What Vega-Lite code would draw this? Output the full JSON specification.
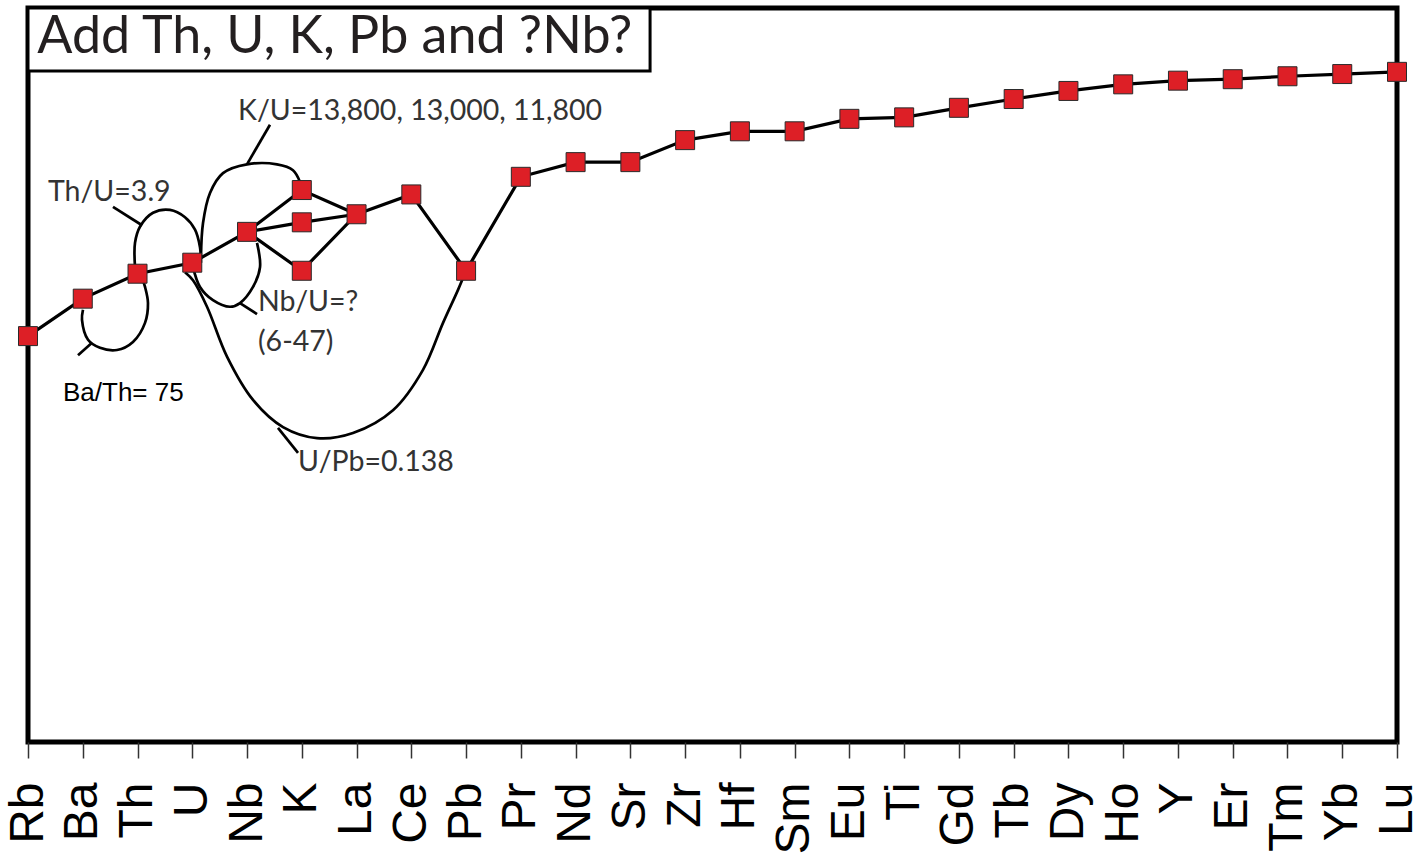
{
  "$schema": "https://vega.github.io/schema/vega-lite/v6.json",
  "width": 1369,
  "height": 734,
  "autosize": {"type": "none"},
  "padding": {"left": 28, "top": 8, "right": 25, "bottom": 121},
  "background": "white",
  "config": {
    "view": {"stroke": "black", "strokeWidth": 5},
    "axis": {"grid": false, "domain": false}
  },
  "datasets": {
    "pattern": [
      {"series": "13,800", "i": 0, "el": "Rb", "v": 55.3},
      {"series": "13,800", "i": 1, "el": "Ba", "v": 60.4},
      {"series": "13,800", "i": 2, "el": "Th", "v": 63.8},
      {"series": "13,800", "i": 3, "el": "U", "v": 65.3},
      {"series": "13,800", "i": 4, "el": "Nb", "v": 69.5},
      {"series": "13,800", "i": 5, "el": "K", "v": 75.2},
      {"series": "13,800", "i": 6, "el": "La", "v": 71.9},
      {"series": "13,800", "i": 7, "el": "Ce", "v": 74.6},
      {"series": "13,800", "i": 8, "el": "Pb", "v": 64.2},
      {"series": "13,800", "i": 9, "el": "Pr", "v": 77.0},
      {"series": "13,800", "i": 10, "el": "Nd", "v": 79.0},
      {"series": "13,800", "i": 11, "el": "Sr", "v": 79.0},
      {"series": "13,800", "i": 12, "el": "Zr", "v": 82.0},
      {"series": "13,800", "i": 13, "el": "Hf", "v": 83.2},
      {"series": "13,800", "i": 14, "el": "Sm", "v": 83.2},
      {"series": "13,800", "i": 15, "el": "Eu", "v": 84.9},
      {"series": "13,800", "i": 16, "el": "Ti", "v": 85.1},
      {"series": "13,800", "i": 17, "el": "Gd", "v": 86.4},
      {"series": "13,800", "i": 18, "el": "Tb", "v": 87.6},
      {"series": "13,800", "i": 19, "el": "Dy", "v": 88.7},
      {"series": "13,800", "i": 20, "el": "Ho", "v": 89.6},
      {"series": "13,800", "i": 21, "el": "Y", "v": 90.1},
      {"series": "13,800", "i": 22, "el": "Er", "v": 90.3},
      {"series": "13,800", "i": 23, "el": "Tm", "v": 90.7},
      {"series": "13,800", "i": 24, "el": "Yb", "v": 91.0},
      {"series": "13,800", "i": 25, "el": "Lu", "v": 91.3},
      {"series": "13,000", "i": 4, "el": "Nb", "v": 69.5},
      {"series": "13,000", "i": 5, "el": "K", "v": 70.8},
      {"series": "13,000", "i": 6, "el": "La", "v": 71.9},
      {"series": "11,800", "i": 4, "el": "Nb", "v": 69.5},
      {"series": "11,800", "i": 5, "el": "K", "v": 64.2},
      {"series": "11,800", "i": 6, "el": "La", "v": 71.9}
    ],
    "loops": [
      {"loop": "BaTh", "k": 0, "lx": 1.004, "v": 58.9},
      {"loop": "BaTh", "k": 1, "lx": 0.986, "v": 57.5},
      {"loop": "BaTh", "k": 2, "lx": 1.096, "v": 54.8},
      {"loop": "BaTh", "k": 3, "lx": 1.315, "v": 53.7},
      {"loop": "BaTh", "k": 4, "lx": 1.625, "v": 53.4},
      {"loop": "BaTh", "k": 5, "lx": 1.917, "v": 54.5},
      {"loop": "BaTh", "k": 6, "lx": 2.137, "v": 57.1},
      {"loop": "BaTh", "k": 7, "lx": 2.191, "v": 59.8},
      {"loop": "BaTh", "k": 8, "lx": 2.137, "v": 62.0},
      {"loop": "BaTh", "k": 9, "lx": 2.082, "v": 63.2},
      {"loop": "BaThLead", "k": 0, "lx": 0.913, "v": 52.7},
      {"loop": "BaThLead", "k": 1, "lx": 1.169, "v": 54.4},
      {"loop": "ThU", "k": 0, "lx": 1.954, "v": 64.7},
      {"loop": "ThU", "k": 1, "lx": 1.954, "v": 68.0},
      {"loop": "ThU", "k": 2, "lx": 2.045, "v": 70.2},
      {"loop": "ThU", "k": 3, "lx": 2.283, "v": 72.1},
      {"loop": "ThU", "k": 4, "lx": 2.593, "v": 72.5},
      {"loop": "ThU", "k": 5, "lx": 2.867, "v": 71.5},
      {"loop": "ThU", "k": 6, "lx": 3.05, "v": 69.8},
      {"loop": "ThU", "k": 7, "lx": 3.141, "v": 67.4},
      {"loop": "ThU", "k": 8, "lx": 3.159, "v": 65.3},
      {"loop": "ThULead", "k": 0, "lx": 1.552, "v": 72.9},
      {"loop": "ThULead", "k": 1, "lx": 2.082, "v": 70.4},
      {"loop": "KU", "k": 0, "lx": 3.159, "v": 66.1},
      {"loop": "KU", "k": 1, "lx": 3.196, "v": 70.7},
      {"loop": "KU", "k": 2, "lx": 3.324, "v": 74.8},
      {"loop": "KU", "k": 3, "lx": 3.561, "v": 77.5},
      {"loop": "KU", "k": 4, "lx": 3.999, "v": 78.7},
      {"loop": "KU", "k": 5, "lx": 4.547, "v": 78.7},
      {"loop": "KU", "k": 6, "lx": 4.839, "v": 77.9},
      {"loop": "KU", "k": 7, "lx": 4.967, "v": 76.3},
      {"loop": "KULead", "k": 0, "lx": 3.999, "v": 78.7},
      {"loop": "KULead", "k": 1, "lx": 4.419, "v": 84.1},
      {"loop": "NbU", "k": 0, "lx": 3.013, "v": 64.7},
      {"loop": "NbU", "k": 1, "lx": 3.141, "v": 62.0},
      {"loop": "NbU", "k": 2, "lx": 3.378, "v": 60.2},
      {"loop": "NbU", "k": 3, "lx": 3.689, "v": 59.3},
      {"loop": "NbU", "k": 4, "lx": 3.871, "v": 59.8},
      {"loop": "NbU", "k": 5, "lx": 4.109, "v": 62.0},
      {"loop": "NbU", "k": 6, "lx": 4.237, "v": 64.7},
      {"loop": "NbU", "k": 7, "lx": 4.182, "v": 68.0},
      {"loop": "NbULead", "k": 0, "lx": 3.871, "v": 59.8},
      {"loop": "NbULead", "k": 1, "lx": 4.182, "v": 58.3},
      {"loop": "UPb", "k": 0, "lx": 2.867, "v": 64.0},
      {"loop": "UPb", "k": 1, "lx": 3.013, "v": 62.9},
      {"loop": "UPb", "k": 2, "lx": 3.269, "v": 59.3},
      {"loop": "UPb", "k": 3, "lx": 3.634, "v": 52.5},
      {"loop": "UPb", "k": 4, "lx": 4.109, "v": 46.6},
      {"loop": "UPb", "k": 5, "lx": 4.657, "v": 42.9},
      {"loop": "UPb", "k": 6, "lx": 5.278, "v": 41.4},
      {"loop": "UPb", "k": 7, "lx": 5.935, "v": 42.1},
      {"loop": "UPb", "k": 8, "lx": 6.665, "v": 45.2},
      {"loop": "UPb", "k": 9, "lx": 7.213, "v": 50.7},
      {"loop": "UPb", "k": 10, "lx": 7.579, "v": 57.1},
      {"loop": "UPb", "k": 11, "lx": 7.853, "v": 61.6},
      {"loop": "UPb", "k": 12, "lx": 7.998, "v": 64.2},
      {"loop": "UPbLead", "k": 0, "lx": 4.565, "v": 42.8},
      {"loop": "UPbLead", "k": 1, "lx": 4.931, "v": 39.4}
    ],
    "notes": [
      {"text": "Th/U=3.9", "lx": 0.365, "v": 75.0},
      {"text": "K/U=13,800,  13,000,  11,800", "lx": 3.835, "v": 86.0},
      {"text": "Nb/U=?", "lx": 4.2, "v": 59.9},
      {"text": "(6-47)", "lx": 4.2, "v": 54.5},
      {"text": "U/Pb=0.138", "lx": 4.931, "v": 38.1}
    ]
  },
  "layer": [
    {
      "data": {"values": [{"text": "Add Th, U, K, Pb and ?Nb?"}]},
      "mark": {"type": "rect", "fill": "white", "stroke": "black", "strokeWidth": 3},
      "encoding": {
        "x": {"datum": 0, "type": "quantitative", "scale": {"domain": [0, 25]}, "axis": null},
        "x2": {"datum": 11.36},
        "y": {"datum": 91.4, "type": "quantitative", "scale": {"domain": [0, 100], "nice": false}, "axis": null},
        "y2": {"datum": 100}
      }
    },
    {
      "data": {"values": [{"text": "Add Th, U, K, Pb and ?Nb?"}]},
      "mark": {"type": "text", "align": "left", "baseline": "middle", "font": "Lato", "fontSize": 52, "color": "#231f20"},
      "encoding": {
        "x": {"datum": 0.17, "type": "quantitative", "scale": {"domain": [0, 25]}, "axis": null},
        "y": {"datum": 96.0, "type": "quantitative", "scale": {"domain": [0, 100], "nice": false}, "axis": null},
        "text": {"field": "text"}
      }
    },
    {
      "data": {"name": "loops"},
      "mark": {"type": "line", "color": "black", "strokeWidth": 2.7, "interpolate": "catmull-rom"},
      "encoding": {
        "x": {"field": "lx", "type": "quantitative", "scale": {"domain": [0, 25]}, "axis": null},
        "y": {"field": "v", "type": "quantitative", "scale": {"domain": [0, 100], "nice": false}, "axis": null},
        "detail": {"field": "loop"},
        "order": {"field": "k"}
      }
    },
    {
      "data": {"name": "pattern"},
      "mark": {"type": "line", "color": "black", "strokeWidth": 3.2},
      "encoding": {
        "x": {"field": "el", "type": "nominal", "scale": {"type": "point", "padding": 0, "domain": ["Rb","Ba","Th","U","Nb","K","La","Ce","Pb","Pr","Nd","Sr","Zr","Hf","Sm","Eu","Ti","Gd","Tb","Dy","Ho","Y","Er","Tm","Yb","Lu"]}, "axis": null},
        "y": {"field": "v", "type": "quantitative", "scale": {"domain": [0, 100], "nice": false}, "axis": null},
        "detail": {"field": "series"},
        "order": {"field": "i"}
      }
    },
    {
      "data": {"name": "pattern"},
      "transform": [{"filter": "datum.series == '13,800' || datum.el == 'K'"}],
      "mark": {"type": "square", "size": 361, "fill": "#dd1f26", "stroke": "#2a2a2a", "strokeWidth": 1, "opacity": 1},
      "encoding": {
        "x": {"field": "el", "type": "nominal", "scale": {"type": "point", "padding": 0, "domain": ["Rb","Ba","Th","U","Nb","K","La","Ce","Pb","Pr","Nd","Sr","Zr","Hf","Sm","Eu","Ti","Gd","Tb","Dy","Ho","Y","Er","Tm","Yb","Lu"]},
          "axis": {"title": null, "labelAngle": -90, "labelFont": "Liberation Sans", "labelFontSize": 48, "labelColor": "black", "tickSize": 16, "tickColor": "#333", "tickWidth": 1.5, "labelPadding": 24, "domain": false, "grid": false, "labelOverlap": false}},
        "y": {"field": "v", "type": "quantitative", "scale": {"domain": [0, 100], "nice": false}, "axis": null}
      }
    },
    {
      "data": {"name": "notes"},
      "mark": {"type": "text", "align": "left", "baseline": "middle", "font": "Lato", "fontSize": 28.5, "color": "#333333"},
      "encoding": {
        "x": {"field": "lx", "type": "quantitative", "scale": {"domain": [0, 25]}, "axis": null},
        "y": {"field": "v", "type": "quantitative", "scale": {"domain": [0, 100], "nice": false}, "axis": null},
        "text": {"field": "text"}
      }
    },
    {
      "data": {"values": [{"text": "Ba/Th= 75", "lx": 0.639, "v": 47.5}]},
      "mark": {"type": "text", "align": "left", "baseline": "middle", "font": "Liberation Sans", "fontSize": 26, "color": "black"},
      "encoding": {
        "x": {"field": "lx", "type": "quantitative", "scale": {"domain": [0, 25]}, "axis": null},
        "y": {"field": "v", "type": "quantitative", "scale": {"domain": [0, 100], "nice": false}, "axis": null},
        "text": {"field": "text"}
      }
    }
  ],
  "resolve": {"scale": {"x": "independent"}, "axis": {"x": "independent"}}
}
